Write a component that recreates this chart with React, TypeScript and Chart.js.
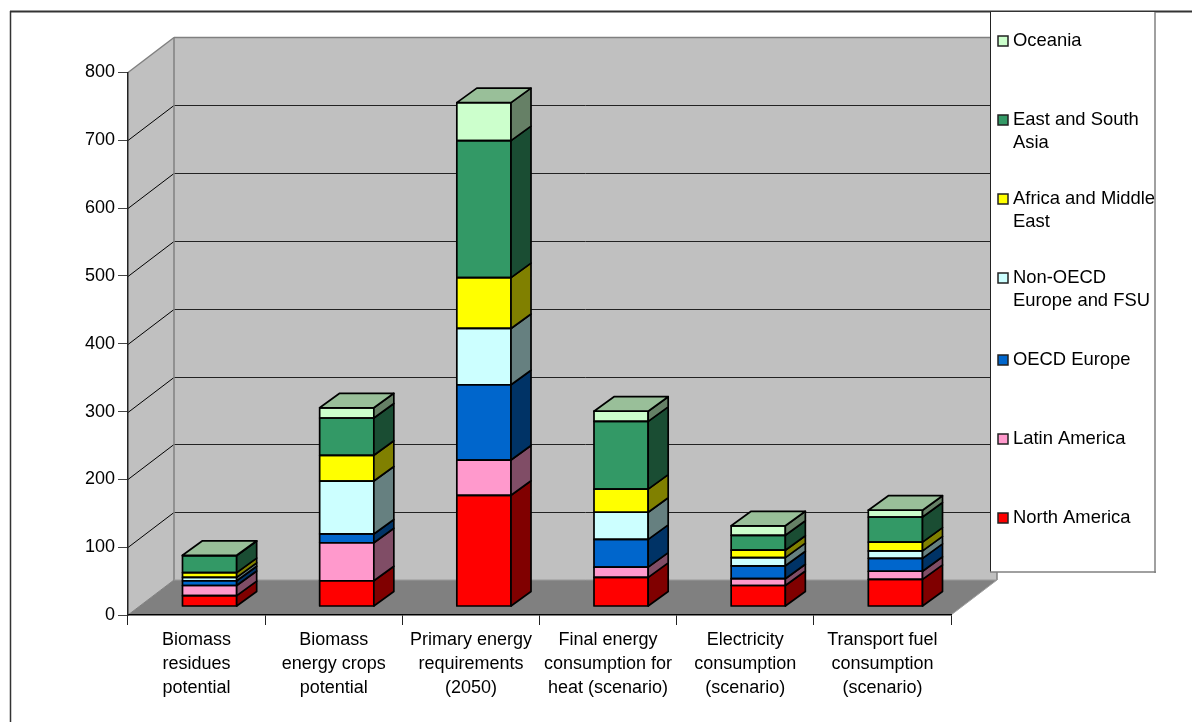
import React, { useEffect, useRef } from "react";
import { Chart, registerables } from "chart.js";

Chart.register(...registerables);

const categories = [
  ["Biomass", "residues", "potential"],
  ["Biomass", "energy crops", "potential"],
  ["Primary energy", "requirements", "(2050)"],
  ["Final energy", "consumption for", "heat (scenario)"],
  ["Electricity", "consumption", "(scenario)"],
  ["Transport fuel", "consumption", "(scenario)"],
];

const northAmerica = [16, 38, 164, 43, 31, 40];
const latinAmerica = [15, 56, 52, 15, 10, 12];
const oecdEurope = [7, 13, 111, 41, 19, 19];
const nonOecdEurope = [5, 78, 83, 40, 12, 11];
const africaMiddleEast = [7, 38, 75, 34, 11, 13];
const eastSouthAsia = [25, 55, 202, 100, 22, 37];
const oceania = [0.5, 15, 56, 15, 14, 10];

const seriesNames = [
  "North America",
  "Latin America",
  "OECD Europe",
  "Non-OECD Europe and FSU",
  "Africa and Middle East",
  "East and South Asia",
  "Oceania",
];
const seriesValues = [northAmerica, latinAmerica, oecdEurope, nonOecdEurope, africaMiddleEast, eastSouthAsia, oceania];
const seriesColors = ["#FF0000", "#FF99CC", "#0066CC", "#CCFFFF", "#FFFF00", "#339966", "#CCFFCC"];
const sideColors = ["#800000", "#804D66", "#003366", "#668080", "#808000", "#1A4D33", "#668066"];
const topFaceColor = "#99BF99";

// Legend rows, top to bottom: wrapped text and the y of each line.
const legendRows = [
  { series: 6, lines: ["Oceania"], ys: [40] },
  { series: 5, lines: ["East and South", "Asia"], ys: [119, 142] },
  { series: 4, lines: ["Africa and Middle", "East"], ys: [198, 221] },
  { series: 3, lines: ["Non-OECD", "Europe and FSU"], ys: [277, 300] },
  { series: 2, lines: ["OECD Europe"], ys: [359] },
  { series: 1, lines: ["Latin America"], ys: [438] },
  { series: 0, lines: ["North America"], ys: [517] },
];

const FONT_FAMILY = "'Liberation Sans', Arial, sans-serif";
const FONT_SIZE = 18;
const LEGEND_FONT_SIZE = 18.4;
// Projection of the plot box: depth of the walls and of each column.
const WALL_DX = 46;
const WALL_DY = -35;
const BAR_SHIFT_X = 13;
const BAR_SHIFT_Y = -8.5;
const BAR_DX = 20;
const BAR_DY = -14.5;
const EDGE = 1.7;

function poly(ctx: CanvasRenderingContext2D, pts: number[][], fill?: string, stroke?: string, lw = 1) {
  ctx.beginPath();
  pts.forEach((p, i) => (i ? ctx.lineTo(p[0], p[1]) : ctx.moveTo(p[0], p[1])));
  ctx.closePath();
  if (fill) {
    ctx.fillStyle = fill;
    ctx.fill();
  }
  if (stroke) {
    ctx.strokeStyle = stroke;
    ctx.lineWidth = lw;
    ctx.lineJoin = "round";
    ctx.stroke();
  }
}

function line(ctx: CanvasRenderingContext2D, x1: number, y1: number, x2: number, y2: number, color: string, lw = 1) {
  ctx.beginPath();
  ctx.moveTo(x1, y1);
  ctx.lineTo(x2, y2);
  ctx.strokeStyle = color;
  ctx.lineWidth = lw;
  ctx.stroke();
}

const box3d = {
  id: "box3d",
  beforeDraw(chart: any) {
    const { ctx, chartArea: a, scales } = chart;
    const y = scales.y;
    const l = a.left;
    const r = a.right;
    const y0 = y.getPixelForValue(0);
    const yMax = y.getPixelForValue(800);
    const bx = l + WALL_DX;
    const bxr = r + WALL_DX;
    ctx.save();
    // Frame of the chart area
    line(ctx, 10, 11.5, 1192, 11.5, "#333333", 2);
    line(ctx, 10.5, 11, 10.5, 722, "#333333", 1.5);
    // Side wall, back wall and floor
    poly(ctx, [[l, yMax], [bx, yMax + WALL_DY], [bx, y0 + WALL_DY], [l, y0]], "#C0C0C0");
    poly(ctx, [[bx, yMax + WALL_DY], [bxr, yMax + WALL_DY], [bxr, y0 + WALL_DY], [bx, y0 + WALL_DY]], "#C0C0C0");
    poly(ctx, [[l, y0], [bx, y0 + WALL_DY], [bxr, y0 + WALL_DY], [r, y0]], "#808080");
    // Gridlines across both walls
    y.ticks.forEach((t: any) => {
      if (t.value === 0 || t.value === 800) return;
      const py = Math.round(y.getPixelForValue(t.value)) + 0.5;
      line(ctx, l, py, bx, py + WALL_DY, "#000000");
      line(ctx, bx, py + WALL_DY, bxr, py + WALL_DY, "#222222");
    });
    // Wall edges
    line(ctx, l, yMax, bx, yMax + WALL_DY, "#808080", 1.5);
    line(ctx, bx, yMax + WALL_DY, bxr, yMax + WALL_DY, "#808080", 1.5);
    line(ctx, bx, yMax + WALL_DY, bx, y0 + WALL_DY, "#808080", 1.5);
    line(ctx, bxr, yMax + WALL_DY, bxr, y0 + WALL_DY, "#808080", 1.5);
    line(ctx, bx, y0 + WALL_DY, bxr, y0 + WALL_DY, "#999999", 1);
    line(ctx, l, y0, bx, y0 + WALL_DY, "#808080", 1);
    line(ctx, r, y0, bxr, y0 + WALL_DY, "#A0A0A0", 1);
    ctx.restore();
  },
  beforeDatasetsDraw(chart: any) {
    chart.ctx.save();
    chart.ctx.translate(BAR_SHIFT_X, BAR_SHIFT_Y);
  },
  afterDatasetsDraw(chart: any) {
    const { ctx } = chart;
    ctx.restore();
    ctx.save();
    const count = chart.data.labels.length;
    const last = chart.data.datasets.length - 1;
    for (let c = 0; c < count; c++) {
      chart.data.datasets.forEach((_: any, d: number) => {
        const el = chart.getDatasetMeta(d).data[c];
        const { x, y, base, width } = el.getProps(["x", "y", "base", "width"], true);
        const xr = x + width / 2 + BAR_SHIFT_X;
        const xl = xr - width;
        const yt = y + BAR_SHIFT_Y;
        const yb = base + BAR_SHIFT_Y;
        // Outline of the front face, then the receding side and lid
        poly(ctx, [[xl, yt], [xr, yt], [xr, yb], [xl, yb]], undefined, "#000000", EDGE);
        poly(ctx, [[xr, yt], [xr + BAR_DX, yt + BAR_DY], [xr + BAR_DX, yb + BAR_DY], [xr, yb]], sideColors[d], "#000000", EDGE);
        if (d === last) {
          poly(ctx, [[xl, yt], [xl + BAR_DX, yt + BAR_DY], [xr + BAR_DX, yt + BAR_DY], [xr, yt]], topFaceColor, "#000000", EDGE);
        }
      });
    }
    ctx.restore();
  },
  afterDraw(chart: any) {
    const { ctx } = chart;
    ctx.save();
    // Legend box, sitting over the walls
    ctx.fillStyle = "#FFFFFF";
    ctx.fillRect(990, 12, 165, 560);
    line(ctx, 990.5, 12, 990.5, 572, "#222222", 1);
    line(ctx, 1155, 12, 1155, 573, "#808080", 1.5);
    line(ctx, 990, 572, 1156, 572, "#808080", 1.5);
    ctx.font = `${LEGEND_FONT_SIZE}px ${FONT_FAMILY}`;
    ctx.textAlign = "left";
    ctx.textBaseline = "middle";
    legendRows.forEach((row) => {
      ctx.fillStyle = seriesColors[row.series];
      ctx.fillRect(998, row.ys[0] - 4, 10, 10);
      ctx.strokeStyle = "#222222";
      ctx.lineWidth = 1.5;
      ctx.strokeRect(998, row.ys[0] - 4, 10, 10);
      ctx.fillStyle = "#000000";
      row.lines.forEach((t, i) => ctx.fillText(t, 1013, row.ys[i] + 1));
    });
    ctx.restore();
  },
};

export default function App() {
  const ref = useRef<HTMLCanvasElement>(null);
  useEffect(() => {
    const chart = new Chart(ref.current as HTMLCanvasElement, {
      type: "bar",
      plugins: [box3d],
      data: {
        labels: categories,
        datasets: seriesNames.map((label, i) => ({
          label,
          data: seriesValues[i],
          backgroundColor: seriesColors[i],
          borderWidth: 0,
          clip: false,
        })),
      } as any,
      options: {
        animation: false,
        responsive: false,
        layout: { padding: { top: 72.5, right: 241, left: 0, bottom: 0 } },
        datasets: { bar: { categoryPercentage: 1, barPercentage: 0.395 } },
        plugins: { legend: { display: false }, tooltip: { enabled: false } },
        scales: {
          x: {
            stacked: true,
            afterFit: (s: any) => { s.height = 107; },
            border: { color: "#000000", width: 1.5 },
            grid: { drawOnChartArea: false, drawTicks: true, tickLength: 10, color: "#222222", offset: true },
            ticks: {
              autoSkip: false,
              maxRotation: 0,
              padding: 3,
              color: "#000000",
              font: { family: FONT_FAMILY, size: FONT_SIZE, lineHeight: 24 / FONT_SIZE },
            },
          },
          y: {
            stacked: true,
            min: 0,
            max: 800,
            afterFit: (s: any) => { s.width = 128; },
            border: { color: "#222222", width: 1.5 },
            grid: { drawOnChartArea: false, drawTicks: true, tickLength: 10, color: "#444444" },
            ticks: {
              stepSize: 100,
              padding: 3,
              color: "#000000",
              font: { family: FONT_FAMILY, size: FONT_SIZE },
            },
          },
        },
      } as any,
    });
    return () => chart.destroy();
  }, []);
  return (
    <div style={{ position: "absolute", left: 0, top: 0, width: 1192, height: 722, background: "#FFFFFF" }}>
      <canvas ref={ref} width={1192} height={722} style={{ display: "block" }} />
    </div>
  );
}
